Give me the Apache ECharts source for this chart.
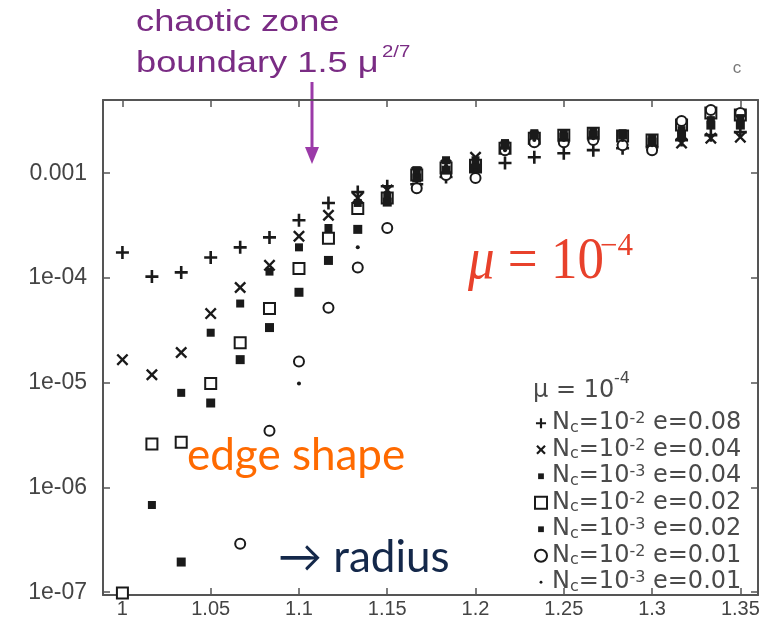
<!DOCTYPE html>
<html><head><meta charset="utf-8">
<script src="https://cdn.jsdelivr.net/npm/echarts@6/dist/echarts.min.js"></script>
<style>html,body{margin:0;padding:0;background:#fff}#c{width:776px;height:638px}</style>
</head><body><div id="c"></div>
<script>
// x positions (radius)
const xs = [1, 1.0167, 1.0333, 1.05, 1.0667, 1.0833, 1.1, 1.1167, 1.1333, 1.15, 1.1667,
  1.1833, 1.2, 1.2167, 1.2333, 1.25, 1.2667, 1.2833, 1.3, 1.3167, 1.3333, 1.35];
const xTicks = [1, 1.05, 1.1, 1.15, 1.2, 1.25, 1.3, 1.35];
const yTicks = [1e-7, 1e-6, 1e-5, 1e-4, 1e-3];
// Nc=1e-2 e=0.08 (+)
const nc2e08 = [1.75e-4, 1.03e-4, 1.13e-4, 1.57e-4, 1.96e-4, 2.44e-4, 3.55e-4, 5.2e-4, 6.6e-4, 7.5e-4, 7.85e-4,
  9.2e-4, 1.02e-3, 1.25e-3, 1.42e-3, 1.55e-3, 1.66e-3, 1.73e-3, 1.77e-3, 2.07e-3, 2.31e-3, 2.47e-3];
// Nc=1e-2 e=0.04 (x)
const nc2e04 = [1.66e-5, 1.19e-5, 1.94e-5, 4.57e-5, 8.1e-5, 1.32e-4, 2.5e-4, 3.97e-4, 5.8e-4, 6.9e-4, 1.02e-3,
  1.19e-3, 1.42e-3, 1.73e-3, 2.07e-3, 2.16e-3, 2.26e-3, 2.07e-3, 1.85e-3, 1.94e-3, 2.16e-3, 2.21e-3];
// Nc=1e-3 e=0.04 (small filled square)
const nc3e04 = [null, 6.8e-7, 8.0e-6, 3.0e-5, 5.7e-5, 1.15e-4, 1.96e-4, 3.0e-4, 5.2e-4, 6.0e-4, 1.07e-3,
  1.33e-3, 1.33e-3, 1.94e-3, 2.41e-3, 2.41e-3, 2.52e-3, 2.41e-3, 2.16e-3, 2.58e-3, 3.21e-3, 3.36e-3];
// Nc=1e-2 e=0.02 (open square)
const nc2e02 = [9.8e-8, 2.6e-6, 2.7e-6, 9.8e-6, 2.4e-5, 5.1e-5, 1.23e-4, 2.39e-4, 4.6e-4, 5.8e-4, 9.6e-4,
  1.12e-3, 1.19e-3, 1.73e-3, 2.16e-3, 2.31e-3, 2.41e-3, 2.26e-3, 2.07e-3, 2.88e-3, 3.75e-3, 3.59e-3];
// Nc=1e-3 e=0.02 (filled square)
const nc3e02 = [null, null, 1.94e-7, 6.4e-6, 1.66e-5, 3.36e-5, 7.3e-5, 1.47e-4, 2.91e-4, 5.3e-4, 9.0e-4,
  1.07e-3, 1.12e-3, 1.85e-3, 2.31e-3, 2.21e-3, 2.31e-3, 2.31e-3, 1.98e-3, 2.31e-3, 2.88e-3, 2.88e-3];
// Nc=1e-2 e=0.01 (open circle)
const nc2e01 = [null, null, null, null, 2.9e-7, 3.47e-6, 1.59e-5, 5.2e-5, 1.26e-4, 3.0e-4, 7.2e-4,
  9.6e-4, 9.0e-4, 1.66e-3, 1.98e-3, 1.98e-3, 2.07e-3, 1.85e-3, 1.66e-3, 3.15e-3, 4.01e-3, 3.75e-3];
// Nc=1e-3 e=0.01 (dot)
const nc3e01 = [null, null, null, null, null, null, 9.8e-6, null, 1.96e-4, 5.8e-4, 9.4e-4,
  1.19e-3, 1.07e-3, 1.66e-3, 2.07e-3, 2.07e-3, 2.16e-3, 2.07e-3, 1.85e-3, 2.47e-3, 3.36e-3, 3.21e-3];

const names = ['A', 'B', 'C', 'D', 'E', 'F', 'G'];
const legendText = {
  A: 'N{sub|c}=10{sup|-2} e=0.08',
  B: 'N{sub|c}=10{sup|-2} e=0.04',
  C: 'N{sub|c}=10{sup|-3} e=0.04',
  D: 'N{sub|c}=10{sup|-2} e=0.02',
  E: 'N{sub|c}=10{sup|-3} e=0.02',
  F: 'N{sub|c}=10{sup|-2} e=0.01',
  G: 'N{sub|c}=10{sup|-3} e=0.01'
};
const PLUS = 'path://M4,0H6V4H10V6H6V10H4V6H0V4H4Z';
const CROSS = 'path://M0,1.4L1.4,0L5,3.6L8.6,0L10,1.4L6.4,5L10,8.6L8.6,10L5,6.4L1.4,10L0,8.6L3.6,5Z';
const SMALLPLUS = 'path://M0,0M10,10M4.1,0.8H5.9V4.1H9.2V5.9H5.9V9.2H4.1V5.9H0.8V4.1H4.1Z';
const SMALLCROSS = 'path://M0,0M10,10M1,2.3L2.3,1L5,3.7L7.7,1L9,2.3L6.3,5L9,7.7L7.7,9L5,6.3L2.3,9L1,7.7L3.7,5Z';
const SMALLSQ = 'path://M0,0M10,10M2.6,2.6H7.4V7.4H2.6Z';
const DOT = 'path://M0,0M10,10M6.2,5A1.2,1.2,0,1,1,3.8,5A1.2,1.2,0,1,1,6.2,5Z';
const INK = '#1a1a1a';
const pts = arr => xs.map((x, i) => [x, arr[i]]).filter(p => p[1] != null);

const seriesDefs = [
  {name: 'A', data: nc2e08, symbol: PLUS, size: 13, z: 2},
  {name: 'B', data: nc2e04, symbol: CROSS, size: 12, z: 2},
  {name: 'C', data: nc3e04, symbol: 'rect', size: 8, z: 4},
  {name: 'D', data: nc2e02, symbol: 'emptyRect', size: 11, z: 2},
  {name: 'E', data: nc3e02, symbol: 'rect', size: 9, z: 4},
  {name: 'F', data: nc2e01, symbol: 'emptyCircle', size: 10, z: 2},
  {name: 'G', data: nc3e01, symbol: 'circle', size: 4, z: 4}
];
const legendIcons = {A: SMALLPLUS, B: SMALLCROSS, C: SMALLSQ, D: 'emptyRect', E: SMALLSQ, F: 'emptyCircle', G: DOT};

const AX = '#555';
const yFmt = v => {
  const l = Math.log10(v), e = Math.round(l);
  if (Math.abs(l - e) > 1e-6) return '';
  return e === -3 ? '0.001' : '1e-0' + (-e);
};
const xFmt = v => String(Math.round(v * 100) / 100);

const chart = echarts.init(document.getElementById('c'));
chart.setOption({
  animation: false,
  backgroundColor: '#fff',
  grid: {left: 103, right: 18, top: 100, bottom: 43, show: false},
  xAxis: [
    {type: 'value', min: 0.989, max: 1.36, position: 'bottom',
      axisLine: {show: true, onZero: false, lineStyle: {color: AX, width: 2}},
      axisTick: {show: true, inside: true, length: 7, customValues: xTicks, lineStyle: {color: AX, width: 1.5}},
      axisLabel: {customValues: xTicks, formatter: xFmt, fontFamily: 'Liberation Sans', fontSize: 20, color: '#444', margin: 4},
      splitLine: {show: false}},
    {type: 'value', min: 0.989, max: 1.36, position: 'top',
      axisLine: {show: true, onZero: false, lineStyle: {color: AX, width: 2}},
      axisTick: {show: true, inside: true, length: 7, customValues: xTicks, lineStyle: {color: AX, width: 1.5}},
      axisLabel: {show: false}, splitLine: {show: false}}
  ],
  yAxis: [
    {type: 'log', logBase: 10, min: 9.4e-8, max: 5e-3, position: 'left',
      axisLine: {show: true, onZero: false, lineStyle: {color: AX, width: 2}},
      axisTick: {show: true, inside: true, length: 7, lineStyle: {color: AX, width: 1.5}},
      axisLabel: {formatter: yFmt, fontFamily: 'Liberation Sans', fontSize: 23, color: '#444', margin: 16,
        showMinLabel: false, showMaxLabel: false},
      splitLine: {show: false}, minorTick: {show: false}},
    {type: 'log', logBase: 10, min: 9.4e-8, max: 5e-3, position: 'right',
      axisLine: {show: true, onZero: false, lineStyle: {color: AX, width: 2}},
      axisTick: {show: true, inside: true, length: 7, lineStyle: {color: AX, width: 1.5}},
      axisLabel: {show: false}, splitLine: {show: false}}
  ],
  legend: {
    orient: 'vertical', left: 529, top: 406, itemWidth: 12, itemHeight: 12, itemGap: 2,
    data: names.map(n => ({name: n, icon: legendIcons[n]})), selectedMode: false,
    formatter: n => legendText[n],
    textStyle: {fontFamily: 'DejaVu Sans', fontSize: 24, color: '#4a4a4a', lineHeight: 24.5,
      rich: {
        sub: {fontFamily: 'DejaVu Sans', fontSize: 16, color: '#4a4a4a', lineHeight: 6, verticalAlign: 'bottom'},
        sup: {fontFamily: 'DejaVu Sans', fontSize: 16, color: '#4a4a4a', lineHeight: 6, verticalAlign: 'top'}
      }}
  },
  series: seriesDefs.map(d => ({
    type: 'scatter', name: d.name, xAxisIndex: 0, yAxisIndex: 0, z: d.z,
    symbol: d.symbol, symbolSize: d.size,
    itemStyle: {color: INK, borderColor: INK, borderWidth: d.symbol.startsWith('empty') ? 2 : 0, opacity: 1},
    data: pts(d.data)
  })),
  graphic: [
    {type: 'text', x: 136, y: 23, scaleX: 1.25, style: {text: 'chaotic zone', font: '29px "Liberation Sans"', fill: '#7a2c84', textVerticalAlign: 'middle'}},
    {type: 'text', x: 136, y: 64, scaleX: 1.25, style: {text: 'boundary 1.5 μ', font: '29px "Liberation Sans"', fill: '#7a2c84', textVerticalAlign: 'middle'}},
    {type: 'text', x: 382, y: 52, scaleX: 1.2, style: {text: '2/7', font: '17px "Liberation Sans"', fill: '#7a2c84', textVerticalAlign: 'middle'}},
    {type: 'line', shape: {x1: 312, y1: 82, x2: 312, y2: 152}, style: {stroke: '#9b3aa8', lineWidth: 3}},
    {type: 'polygon', shape: {points: [[305, 147], [319, 147], [312, 164]]}, style: {fill: '#9b3aa8'}},
    {type: 'text', x: 737, y: 68, style: {text: 'c', font: '17px "Liberation Sans"', fill: '#777', textAlign: 'center', textVerticalAlign: 'middle'}},
    {type: 'text', x: 468, y: 262, scaleY: 1.12, style: {text: '{i|μ} = 10', font: '53px "Liberation Serif"', fill: '#e8412b', textVerticalAlign: 'middle',
      rich: {i: {font: 'italic 53px "Liberation Serif"', fill: '#e8412b'}}}},
    {type: 'text', x: 600, y: 247, style: {text: '−4', font: '31px "Liberation Serif"', fill: '#e8412b', textVerticalAlign: 'middle'}},
    {type: 'text', x: 187, y: 456, style: {text: 'edge shape', font: '44px Lato', fill: '#ff6a00', textVerticalAlign: 'middle'}},
    {type: 'text', x: 278, y: 558, style: {text: '→ radius', font: '44px Lato', fill: '#14284a', textVerticalAlign: 'middle'}},
    {type: 'text', x: 533, y: 391, style: {text: 'μ = 10', font: '24px "DejaVu Sans"', fill: '#4a4a4a', textVerticalAlign: 'middle'}},
    {type: 'text', x: 614, y: 379, style: {text: '-4', font: '16px "DejaVu Sans"', fill: '#4a4a4a', textVerticalAlign: 'middle'}}
  ]
});
</script></body></html>
